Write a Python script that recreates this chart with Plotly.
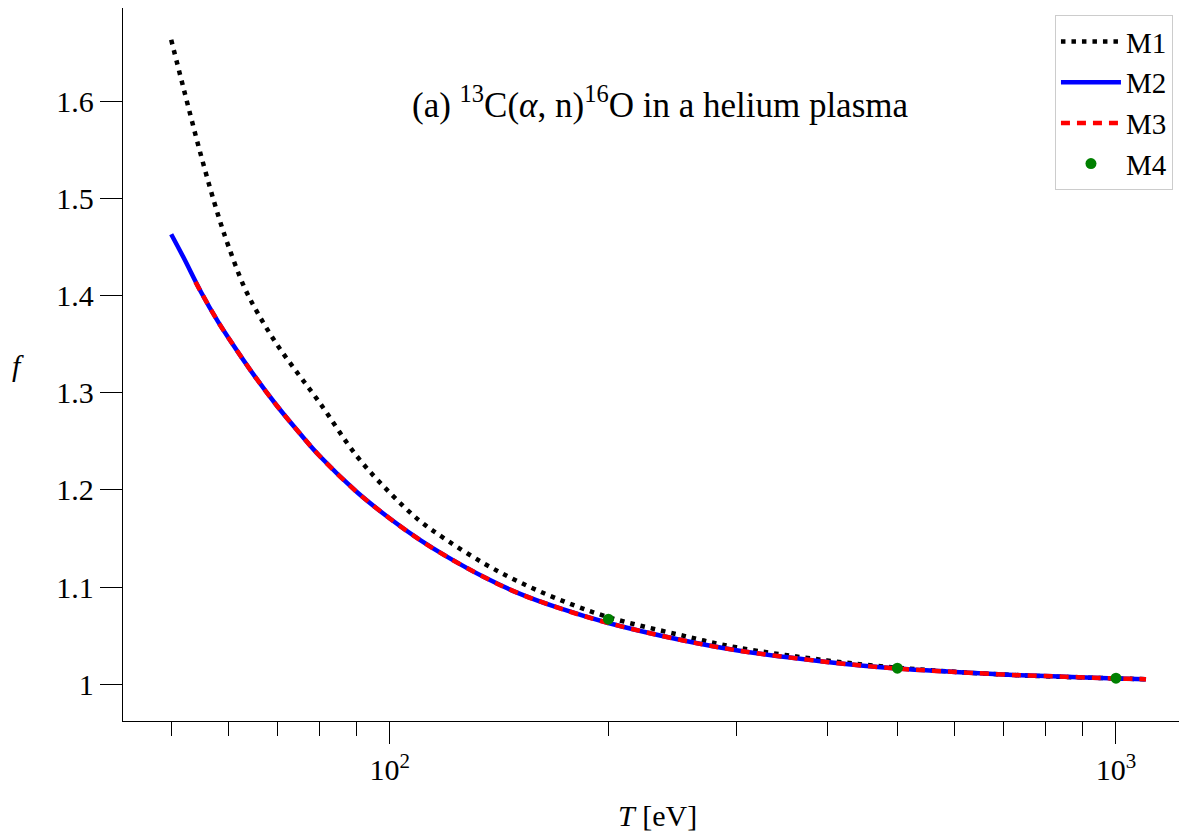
import plotly.graph_objects as go

# Temperatures [eV] and f values
T_m1 = [50, 52, 55, 58, 60, 63, 66, 70, 75, 80, 90, 100, 110, 120, 135, 150, 170,
        200, 250, 300, 400, 500, 600, 700, 800, 1000, 1100]
f_m1 = [1.663, 1.613, 1.543, 1.483, 1.450, 1.409, 1.380, 1.349, 1.318, 1.290, 1.235,
        1.197, 1.168, 1.148, 1.124, 1.106, 1.088, 1.069, 1.051, 1.038, 1.0245, 1.017,
        1.0128, 1.0100, 1.0082, 1.0060, 1.0052]

T_m2 = [50, 52, 55, 58, 60, 65, 70, 75, 80, 90, 100, 110, 120, 135, 150, 170,
        200, 250, 300, 400, 500, 600, 700, 800, 1000, 1100]
f_m2 = [1.463, 1.439, 1.403, 1.373, 1.356, 1.318, 1.286, 1.259, 1.235, 1.198, 1.1705,
        1.1485, 1.131, 1.110, 1.094, 1.079, 1.063, 1.046, 1.035, 1.023, 1.0161, 1.0127,
        1.0100, 1.0084, 1.0060, 1.0052]

T_m3 = [54, 55, 58, 60, 65, 70, 75, 80, 90, 100, 110, 120, 135, 150, 170,
        200, 250, 300, 400, 500, 600, 700, 800, 1000, 1100]
f_m3 = [1.414, 1.403, 1.373, 1.356, 1.318, 1.286, 1.259, 1.235, 1.198, 1.1705,
        1.1485, 1.131, 1.110, 1.094, 1.079, 1.063, 1.046, 1.035, 1.023, 1.0161, 1.0127,
        1.0100, 1.0084, 1.0060, 1.0052]

T_m4 = [200, 500, 1000]
f_m4 = [1.067, 1.0165, 1.0062]

x_major = [100, 1000]
x_major_text = ["10<sup>2</sup>", "10<sup>3</sup>"]
x_minor = [50, 60, 70, 80, 90, 200, 300, 400, 500, 600, 700, 800, 900]
y_ticks = [1.0, 1.1, 1.2, 1.3, 1.4, 1.5, 1.6]
y_text = ["1", "1.1", "1.2", "1.3", "1.4", "1.5", "1.6"]

FONT = "Liberation Serif"
FS = 30

fig = go.Figure()
fig.add_trace(go.Scatter(x=T_m1, y=f_m1, mode="lines", name="M1",
                         line=dict(color="black", width=4.5, dash="4.5px,6px", shape="spline")))
fig.add_trace(go.Scatter(x=T_m2, y=f_m2, mode="lines", name="M2",
                         line=dict(color="#0000ff", width=4.5, shape="spline")))
fig.add_trace(go.Scatter(x=T_m3, y=f_m3, mode="lines", name="M3",
                         line=dict(color="#ff0000", width=4.5, dash="9px,7px", shape="spline")))
fig.add_trace(go.Scatter(x=T_m4, y=f_m4, mode="markers", name="M4",
                         marker=dict(color="#008000", size=11)))

# page body has an 8px margin, so the figure is shifted by that amount
fig.update_layout(
    width=1179, height=830,
    margin=dict(l=115, r=0, t=0, b=117),
    plot_bgcolor="white", paper_bgcolor="white",
    font=dict(family=FONT, size=FS, color="black"),
    showlegend=True,
    legend=dict(x=0.9868, xanchor="right", y=0.990, yanchor="top",
                bordercolor="#cccccc", borderwidth=1, bgcolor="white",
                itemwidth=60,
                font=dict(family=FONT, size=29), tracegroupgap=0),
)
fig.update_xaxes(type="log", range=[1.6326, 3.0978],
                 tickmode="array", tickvals=x_major, ticktext=x_major_text,
                 ticks="outside", ticklen=22, tickwidth=1.3, tickcolor="black",
                 minor=dict(tickmode="array", tickvals=x_minor, ticks="outside",
                            ticklen=14, tickwidth=1.3, tickcolor="black", showgrid=False),
                 showline=True, linecolor="black", linewidth=1.3, mirror=True,
                 showgrid=False, zeroline=False)
fig.update_yaxes(range=[0.9622, 1.6957],
                 tickmode="array", tickvals=y_ticks, ticktext=y_text,
                 ticks="outside", ticklen=22, tickwidth=1.3, tickcolor="black",
                 showline=True, linecolor="black", linewidth=1.3, mirror=False,
                 showgrid=False, zeroline=False)

fig.add_annotation(text="(a) <sup>13</sup>C(<i>α</i>, n)<sup>16</sup>O in a helium plasma",
                   xref="paper", yref="paper", x=0.5045, y=0.868,
                   xanchor="center", yanchor="middle", showarrow=False,
                   font=dict(family=FONT, size=35))
fig.add_annotation(text="<i>T</i> [eV]", xref="paper", yref="paper",
                   x=0.5027, y=-0.132, xanchor="center", yanchor="middle",
                   showarrow=False, font=dict(family=FONT, size=FS))
fig.add_annotation(text="<i>f</i>", xref="paper", yref="paper",
                   x=-0.099, y=0.498, xanchor="center", yanchor="middle",
                   showarrow=False, font=dict(family=FONT, size=FS))

fig.write_html("out.html")
